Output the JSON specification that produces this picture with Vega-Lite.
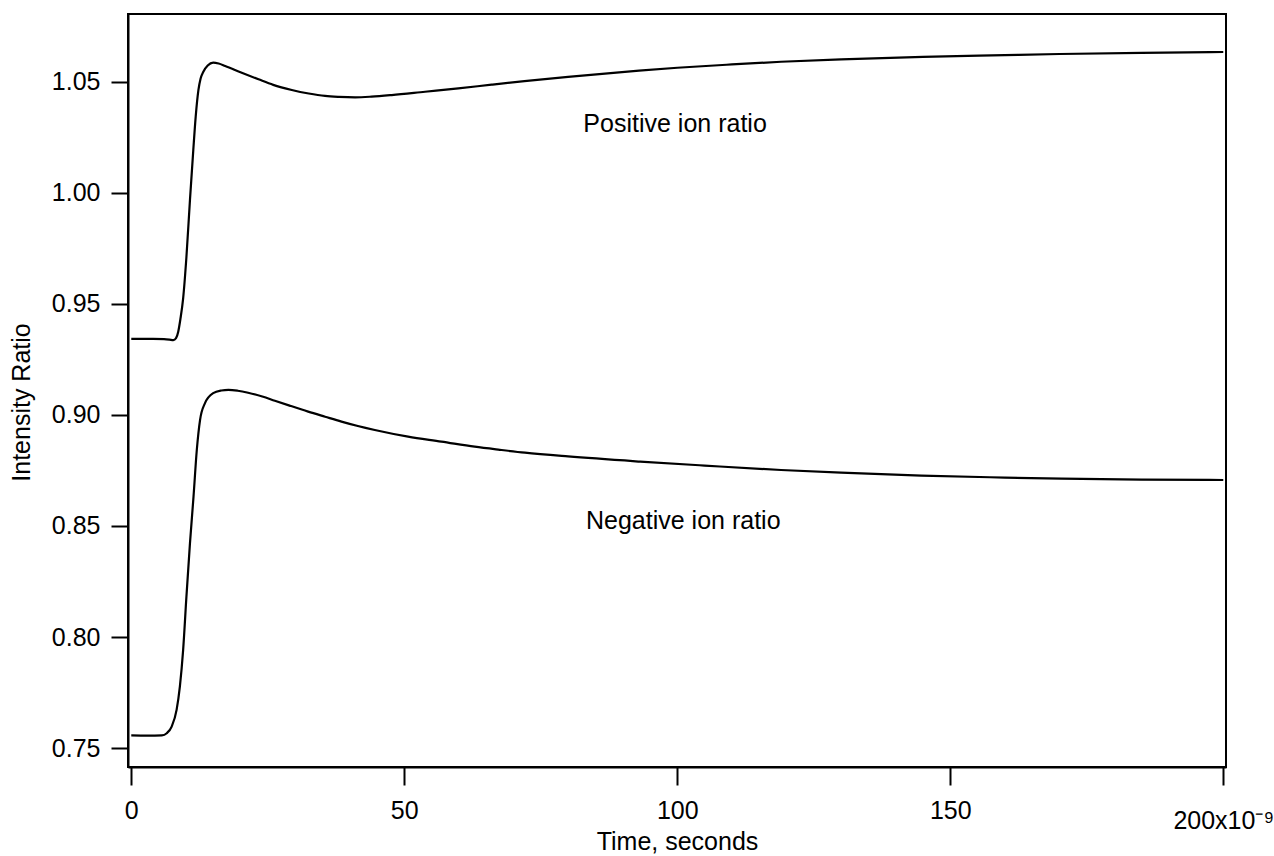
{
  "$schema": "https://vega.github.io/schema/vega-lite/v6.json",
  "width": 1098,
  "height": 753,
  "autosize": {"type": "none"},
  "padding": {"left": 128, "top": 14, "right": 48, "bottom": 89},
  "background": "white",
  "config": {
    "view": {"stroke": "black", "strokeWidth": 2},
    "font": "Liberation Sans",
    "axis": {
      "grid": false,
      "domainColor": "black",
      "domainWidth": 2,
      "tickColor": "black",
      "tickWidth": 2,
      "labelColor": "black",
      "labelFont": "Liberation Sans",
      "labelFontSize": 25,
      "titleFont": "Liberation Sans",
      "titleFontSize": 25,
      "titleFontWeight": "normal",
      "titleColor": "black",
      "labelOverlap": false,
      "labelFlush": false
    }
  },
  "datasets": {
    "curves": [
      {"t": 0, "v": 0.9342, "series": "Positive"},
      {"t": 2, "v": 0.9342, "series": "Positive"},
      {"t": 4, "v": 0.9342, "series": "Positive"},
      {"t": 6, "v": 0.9341, "series": "Positive"},
      {"t": 7, "v": 0.9339, "series": "Positive"},
      {"t": 7.7, "v": 0.9337, "series": "Positive"},
      {"t": 8.2, "v": 0.9346, "series": "Positive"},
      {"t": 8.6, "v": 0.9375, "series": "Positive"},
      {"t": 9.0, "v": 0.9432, "series": "Positive"},
      {"t": 9.5, "v": 0.9525, "series": "Positive"},
      {"t": 10.1, "v": 0.9711, "series": "Positive"},
      {"t": 10.75, "v": 0.9968, "series": "Positive"},
      {"t": 11.36, "v": 1.0193, "series": "Positive"},
      {"t": 11.8, "v": 1.0343, "series": "Positive"},
      {"t": 12.3, "v": 1.0463, "series": "Positive"},
      {"t": 12.7, "v": 1.0515, "series": "Positive"},
      {"t": 13.2, "v": 1.0545, "series": "Positive"},
      {"t": 14.0, "v": 1.0573, "series": "Positive"},
      {"t": 15.0, "v": 1.0586, "series": "Positive"},
      {"t": 16.0, "v": 1.0582, "series": "Positive"},
      {"t": 17.2, "v": 1.0571, "series": "Positive"},
      {"t": 20, "v": 1.0543, "series": "Positive"},
      {"t": 23.3, "v": 1.0511, "series": "Positive"},
      {"t": 26, "v": 1.0486, "series": "Positive"},
      {"t": 29.4, "v": 1.0463, "series": "Positive"},
      {"t": 32.5, "v": 1.0447, "series": "Positive"},
      {"t": 35.5, "v": 1.0436, "series": "Positive"},
      {"t": 38, "v": 1.0432, "series": "Positive"},
      {"t": 41, "v": 1.043, "series": "Positive"},
      {"t": 44, "v": 1.0433, "series": "Positive"},
      {"t": 47.7, "v": 1.044, "series": "Positive"},
      {"t": 53.8, "v": 1.0455, "series": "Positive"},
      {"t": 59.9, "v": 1.047, "series": "Positive"},
      {"t": 66, "v": 1.0487, "series": "Positive"},
      {"t": 72, "v": 1.0503, "series": "Positive"},
      {"t": 80, "v": 1.0522, "series": "Positive"},
      {"t": 93, "v": 1.055, "series": "Positive"},
      {"t": 100, "v": 1.0563, "series": "Positive"},
      {"t": 110, "v": 1.0578, "series": "Positive"},
      {"t": 119, "v": 1.059, "series": "Positive"},
      {"t": 130, "v": 1.0601, "series": "Positive"},
      {"t": 145, "v": 1.0612, "series": "Positive"},
      {"t": 160, "v": 1.062, "series": "Positive"},
      {"t": 170, "v": 1.0625, "series": "Positive"},
      {"t": 185, "v": 1.063, "series": "Positive"},
      {"t": 200, "v": 1.0634, "series": "Positive"},
      {"t": 0, "v": 0.7557, "series": "Negative"},
      {"t": 3, "v": 0.7556, "series": "Negative"},
      {"t": 5.6, "v": 0.7557, "series": "Negative"},
      {"t": 6.5, "v": 0.7567, "series": "Negative"},
      {"t": 7.4, "v": 0.7597, "series": "Negative"},
      {"t": 8.3, "v": 0.7672, "series": "Negative"},
      {"t": 8.9, "v": 0.7777, "series": "Negative"},
      {"t": 9.5, "v": 0.7942, "series": "Negative"},
      {"t": 10.1, "v": 0.8182, "series": "Negative"},
      {"t": 10.75, "v": 0.8423, "series": "Negative"},
      {"t": 11.4, "v": 0.8632, "series": "Negative"},
      {"t": 12.0, "v": 0.8842, "series": "Negative"},
      {"t": 12.6, "v": 0.8978, "series": "Negative"},
      {"t": 13.5, "v": 0.9053, "series": "Negative"},
      {"t": 15.0, "v": 0.9098, "series": "Negative"},
      {"t": 16.5, "v": 0.911, "series": "Negative"},
      {"t": 17.8, "v": 0.9113, "series": "Negative"},
      {"t": 19.5, "v": 0.9109, "series": "Negative"},
      {"t": 21.4, "v": 0.91, "series": "Negative"},
      {"t": 24, "v": 0.9083, "series": "Negative"},
      {"t": 26.3, "v": 0.9064, "series": "Negative"},
      {"t": 29, "v": 0.9042, "series": "Negative"},
      {"t": 32.4, "v": 0.9015, "series": "Negative"},
      {"t": 35.5, "v": 0.8992, "series": "Negative"},
      {"t": 38.5, "v": 0.897, "series": "Negative"},
      {"t": 41.5, "v": 0.895, "series": "Negative"},
      {"t": 44.6, "v": 0.8932, "series": "Negative"},
      {"t": 50.7, "v": 0.8902, "series": "Negative"},
      {"t": 56.8, "v": 0.888, "series": "Negative"},
      {"t": 62.9, "v": 0.8857, "series": "Negative"},
      {"t": 67.5, "v": 0.8843, "series": "Negative"},
      {"t": 72.1, "v": 0.883, "series": "Negative"},
      {"t": 80, "v": 0.8813, "series": "Negative"},
      {"t": 93.2, "v": 0.879, "series": "Negative"},
      {"t": 105, "v": 0.8772, "series": "Negative"},
      {"t": 119, "v": 0.8752, "series": "Negative"},
      {"t": 130, "v": 0.874, "series": "Negative"},
      {"t": 144.7, "v": 0.8727, "series": "Negative"},
      {"t": 160, "v": 0.8718, "series": "Negative"},
      {"t": 170.4, "v": 0.8713, "series": "Negative"},
      {"t": 185, "v": 0.8709, "series": "Negative"},
      {"t": 200, "v": 0.8707, "series": "Negative"}
    ],
    "labels": [
      {"t": 99.6, "v": 1.0274, "label": "Positive ion ratio"},
      {"t": 101.1, "v": 0.8487, "label": "Negative ion ratio"}
    ]
  },
  "layer": [
    {
      "data": {"name": "curves"},
      "mark": {"type": "line", "color": "black", "strokeWidth": 2.2, "interpolate": "monotone", "clip": true},
      "encoding": {
        "x": {
          "field": "t",
          "type": "quantitative",
          "scale": {"domain": [-0.6, 200.5], "nice": false, "zero": false},
          "axis": {
            "title": "Time, seconds",
            "values": [0, 50, 100, 150, 200],
            "labelExpr": "datum.value == 200 ? '200x10⁻⁹' : datum.label",
            "tickSize": 18,
            "labelPadding": {"condition": {"test": "datum.value == 200", "value": 23}, "value": 13},
            "titlePadding": -4
          }
        },
        "y": {
          "field": "v",
          "type": "quantitative",
          "scale": {"domain": [0.7415, 1.0805], "nice": false, "zero": false},
          "axis": {
            "title": "Intensity Ratio",
            "values": [0.75, 0.8, 0.85, 0.9, 0.95, 1.0, 1.05],
            "format": ".2f",
            "tickSize": 17,
            "labelPadding": 11,
            "titlePadding": 17,
            "titleY": 388
          }
        },
        "detail": {"field": "series"}
      }
    },
    {
      "data": {"name": "labels"},
      "mark": {"type": "text", "fontSize": 25, "align": "center", "baseline": "alphabetic", "color": "black", "font": "Liberation Sans"},
      "encoding": {
        "x": {"field": "t", "type": "quantitative"},
        "y": {"field": "v", "type": "quantitative"},
        "text": {"field": "label"}
      }
    }
  ]
}
